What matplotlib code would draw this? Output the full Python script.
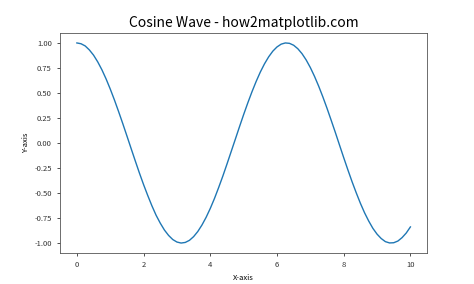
import matplotlib
matplotlib.use("Agg")
import matplotlib.pyplot as plt

plt.rcParams['font.family'] = ['Noto Sans CJK SC', 'DejaVu Sans']

# values (x step 0.125)
x_vals = [i * 0.125 for i in range(81)]
y_vals = [1.000, 0.992, 0.970, 0.930, 0.878, 0.811, 0.732, 0.641,
          0.540, 0.431, 0.315, 0.195, 0.071, -0.054, -0.178, -0.300,
          -0.416, -0.525, -0.628, -0.722, -0.801, -0.870, -0.924, -0.965,
          -0.990, -1.000, -0.994, -0.973, -0.936, -0.885, -0.820, -0.743,
          -0.654, -0.555, -0.446, -0.332, -0.211, -0.087, 0.037, 0.162,
          0.284, 0.401, 0.512, 0.615, 0.709, 0.791, 0.861, 0.918,
          0.960, 0.988, 1.000, 0.996, 0.977, 0.942, 0.893, 0.830,
          0.754, 0.666, 0.568, 0.461, 0.347, 0.227, 0.105, -0.021,
          -0.146, -0.268, -0.386, -0.497, -0.602, -0.697, -0.780, -0.853,
          -0.911, -0.955, -0.986, -0.999, -0.997, -0.980, -0.946, -0.900,
          -0.839]
x_ticks = [0, 2, 4, 6, 8, 10]
y_ticks = [-1.00, -0.75, -0.50, -0.25, 0.00, 0.25, 0.50, 0.75, 1.00]

fig = plt.figure(figsize=(4.74, 2.84), dpi=100)
ax = fig.add_axes([0.127, 0.109, 0.774, 0.775])

ax.plot(x_vals, y_vals, color='#1f77b4', linewidth=1.0)

ax.set_xticks(x_ticks)
ax.set_yticks(y_ticks)
ax.set_yticklabels([f"{v:.2f}" for v in y_ticks])
ax.tick_params(labelsize=5.5, width=0.6, length=2.5, colors='#333333')
for s in ax.spines.values():
    s.set_linewidth(0.6)
    s.set_color('#555555')

ax.set_title('Cosine Wave - how2matplotlib.com', fontsize=10, pad=4)
ax.set_xlabel('X-axis', fontsize=5.5, labelpad=3)
ax.set_ylabel('Y-axis', fontsize=5.5, labelpad=3)

fig.savefig('out.png', dpi=100)
